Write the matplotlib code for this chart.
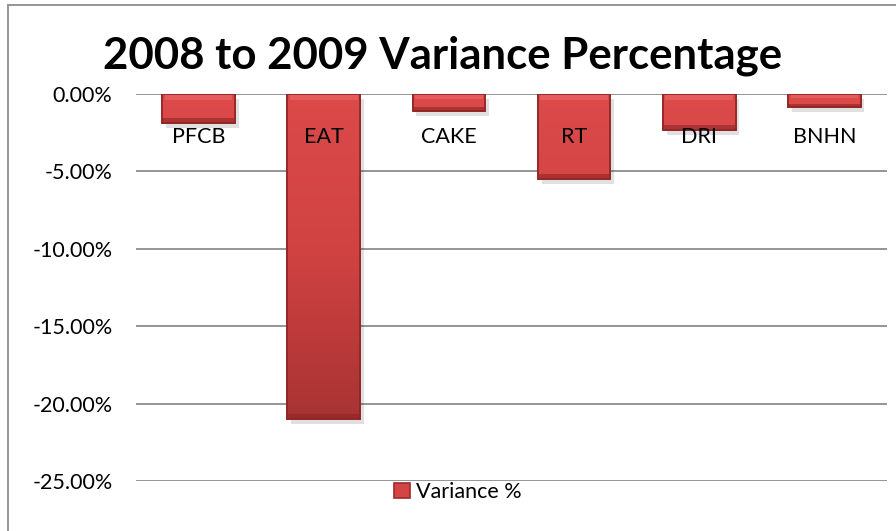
import matplotlib
matplotlib.use("Agg")
import matplotlib.pyplot as plt
import numpy as np
from matplotlib.patches import Rectangle
from matplotlib.colors import LinearSegmentedColormap, Normalize
from matplotlib.ticker import FuncFormatter

categories = ["PFCB", "EAT", "CAKE", "RT", "DRI", "BNHN"]
variance_pct = [-1.85, -21.0, -1.08, -5.46, -2.32, -0.82]
series_name = "Variance %"
title = "2008 to 2009 Variance Percentage"
yticks = [0, -5, -10, -15, -20, -25]

plt.rcParams['font.family'] = ['Lato', 'DejaVu Sans']

fig = plt.figure(figsize=(8.96, 5.31), dpi=100)
W, H = 896, 531
ax = fig.add_axes([136 / W, 1 - 481 / H, (887 - 136) / W, (481 - 94) / H])

x = np.arange(len(categories))
bars = ax.bar(x, variance_pct, width=0.58, color="#D44545", edgecolor="#9E2A2A",
              linewidth=1.2, zorder=3, label=series_name)

# gradient fill clipped to each bar (darkens with depth)
cmap = LinearSegmentedColormap.from_list("redgrad", ["#DC4A4A", "#D04242", "#A83333"])
norm = Normalize(vmin=0, vmax=21)
for b in bars:
    x0, w = b.get_x(), b.get_width()
    y1 = b.get_height()
    depth = np.linspace(0, abs(y1), 256).reshape(-1, 1)
    im = ax.imshow(depth, cmap=cmap, norm=norm, aspect="auto",
                   extent=(x0, x0 + w, y1, 0), zorder=3.1)
    im.set_clip_path(b)
    # top highlight strip
    ax.add_patch(Rectangle((x0 + 0.02, -0.05), w - 0.04, -min(0.35, abs(y1) * 0.25),
                           facecolor="#F07070", alpha=0.5, zorder=3.2, linewidth=0))
    # bottom dark bevel
    ax.add_patch(Rectangle((x0, y1), w, min(0.3, abs(y1) * 0.2),
                           facecolor="#8E2525", alpha=0.6, zorder=3.2, linewidth=0))
    # shadow
    ax.add_patch(Rectangle((x0 + 0.03, y1 - 0.35), w, -y1, facecolor="#000000",
                           alpha=0.12, zorder=2.5, linewidth=0))
    ax.add_patch(Rectangle((x0, y1), w, -y1, facecolor="none", edgecolor="#8E2525",
                           linewidth=1.2, zorder=3.3))

ax.set_xlim(-0.5, len(categories) - 0.5)
ax.set_ylim(-25, 0)
ax.set_yticks(yticks)
ax.yaxis.set_major_formatter(FuncFormatter(lambda v, p: f"{v:.2f}%"))
for yv in yticks:
    ax.axhline(yv, color="#8C8C8C", linewidth=1.3, zorder=1)
for s in ax.spines.values():
    s.set_visible(False)

ax.set_xticks(x)
ax.set_xticklabels(categories)
ax.tick_params(axis="x", length=0, labelbottom=False, labeltop=True, pad=-38,
               labelsize=15.5, labelcolor="black")
ax.tick_params(axis="y", length=0, pad=17, labelsize=15.5)
ax.xaxis.set_zorder(5)

fig.text(443 / W, 1 - 56 / H, title, ha="center", va="center",
         fontsize=31.5, fontweight="bold")

fig.legend(handles=[bars], labels=[series_name], loc="center",
           bbox_to_anchor=(458 / W, 1 - 492 / H), frameon=False, fontsize=15.5,
           handlelength=0.75, handleheight=0.75, handletextpad=0.3)

# chart border
fig.add_artist(Rectangle((8 / W, -0.05), 1.2, 1 - 5 / H + 0.05, transform=fig.transFigure,
                         facecolor="none", edgecolor="#8C8C8C", linewidth=1.3))

fig.savefig("out.png", dpi=100)
